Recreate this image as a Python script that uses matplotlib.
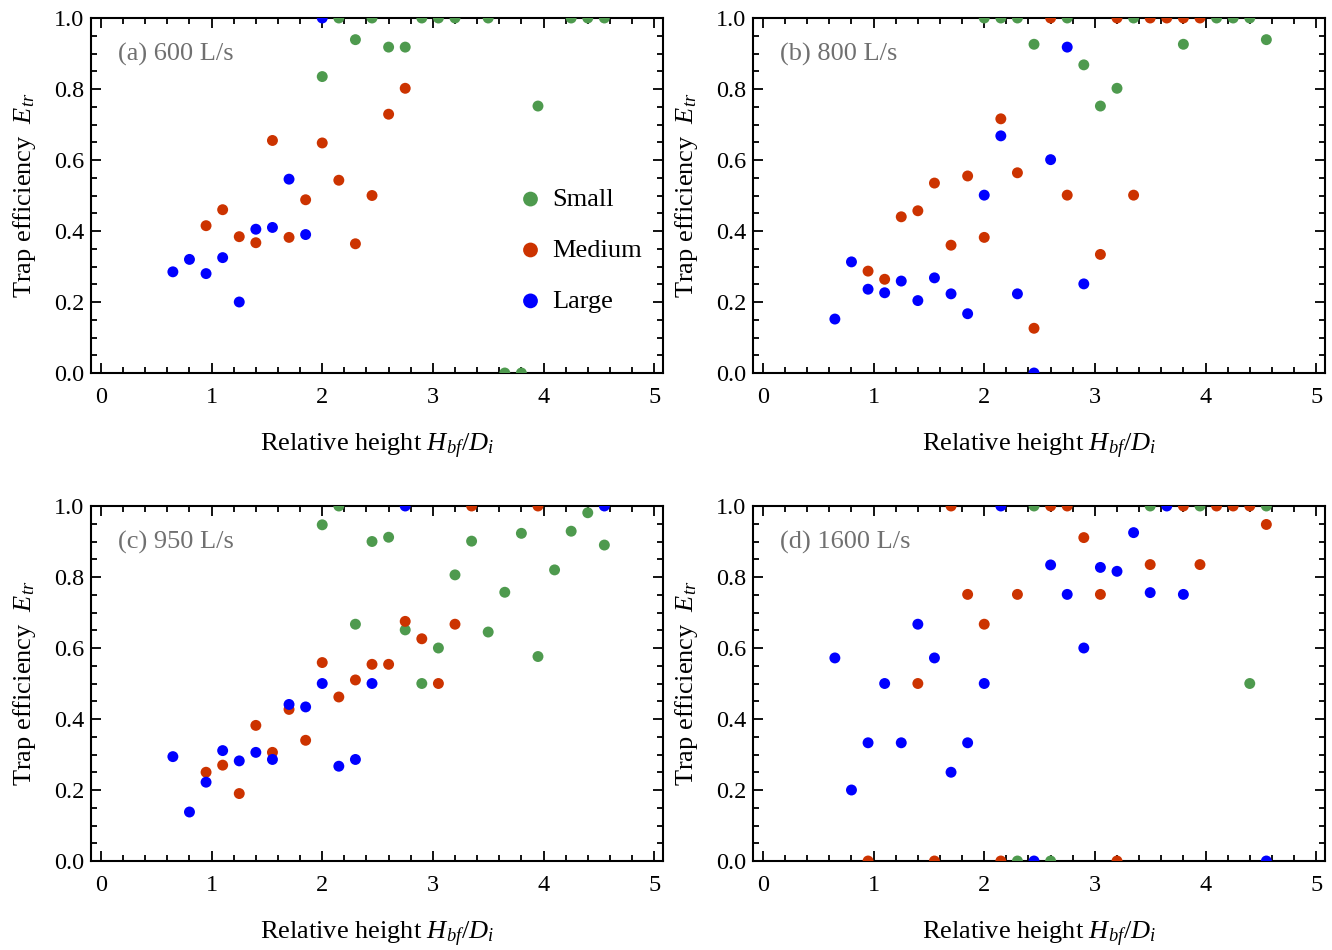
import matplotlib

matplotlib.use("Agg")
import matplotlib.pyplot as plt
from matplotlib.ticker import MultipleLocator

plt.rcParams["font.family"] = ["Liberation Serif", "DejaVu Serif"]
plt.rcParams["mathtext.fontset"] = "custom"
plt.rcParams["mathtext.rm"] = "Liberation Serif"
plt.rcParams["mathtext.it"] = "Liberation Serif:italic"

COLORS = {"Small": "#4E9A4E", "Medium": "#CC3300", "Large": "#0000FF"}

# (a) 600 L/s
a_small_x = [2.0, 2.15, 2.3, 2.45, 2.6, 2.75, 2.9, 3.05, 3.2, 3.5, 3.65, 3.8, 3.95, 4.25, 4.4, 4.55]
a_small_y = [0.835, 1.0, 0.939, 1.0, 0.918, 0.918, 1.0, 1.0, 1.0, 1.0, 0.0, 0.0, 0.752, 1.0, 1.0, 1.0]
a_medium_x = [0.95, 1.1, 1.25, 1.4, 1.55, 1.7, 1.85, 2.0, 2.15, 2.3, 2.45, 2.6, 2.75]
a_medium_y = [0.415, 0.46, 0.384, 0.367, 0.655, 0.382, 0.488, 0.648, 0.543, 0.364, 0.50, 0.729, 0.802]
a_large_x = [0.65, 0.8, 0.95, 1.1, 1.25, 1.4, 1.55, 1.7, 1.85, 2.0]
a_large_y = [0.285, 0.32, 0.28, 0.325, 0.20, 0.405, 0.41, 0.546, 0.39, 1.0]

# (b) 800 L/s
b_small_x = [2.0, 2.15, 2.3, 2.45, 2.75, 2.9, 3.05, 3.2, 3.35, 3.8, 4.1, 4.25, 4.4, 4.55]
b_small_y = [1.0, 1.0, 1.0, 0.926, 1.0, 0.868, 0.752, 0.802, 1.0, 0.926, 1.0, 1.0, 1.0, 0.939]
b_medium_x = [0.95, 1.1, 1.25, 1.4, 1.55, 1.7, 1.85, 2.0, 2.15, 2.3, 2.45, 2.6, 2.75, 3.05, 3.2, 3.35,
              3.5, 3.65, 3.8, 3.95]
b_medium_y = [0.287, 0.264, 0.44, 0.457, 0.535, 0.36, 0.555, 0.382, 0.716, 0.564, 0.126, 1.0, 0.501, 0.334,
              1.0, 0.501, 1.0, 1.0, 1.0, 1.0]
b_large_x = [0.65, 0.8, 0.95, 1.1, 1.25, 1.4, 1.55, 1.7, 1.85, 2.0, 2.15, 2.3, 2.45, 2.6, 2.75, 2.9]
b_large_y = [0.152, 0.313, 0.236, 0.226, 0.259, 0.204, 0.268, 0.223, 0.167, 0.501, 0.668, 0.223, 0.0,
             0.601, 0.918, 0.251]

# (c) 950 L/s
c_small_x = [2.0, 2.15, 2.3, 2.45, 2.6, 2.75, 2.9, 3.05, 3.2, 3.35, 3.5, 3.65, 3.8, 3.95, 4.1, 4.25, 4.4,
             4.55]
c_small_y = [0.947, 1.0, 0.667, 0.90, 0.912, 0.651, 0.50, 0.60, 0.806, 0.901, 0.645, 0.757, 0.923, 0.576,
             0.82, 0.929, 0.981, 0.89]
c_medium_x = [0.95, 1.1, 1.25, 1.4, 1.55, 1.7, 1.85, 2.0, 2.15, 2.3, 2.45, 2.6, 2.75, 2.9, 3.05, 3.2, 3.35,
              3.95]
c_medium_y = [0.25, 0.27, 0.19, 0.382, 0.306, 0.427, 0.34, 0.559, 0.462, 0.51, 0.554, 0.554, 0.675, 0.626,
              0.50, 0.667, 1.0, 1.0]
c_large_x = [0.65, 0.8, 0.95, 1.1, 1.25, 1.4, 1.55, 1.7, 1.85, 2.0, 2.15, 2.3, 2.45, 2.75, 4.55]
c_large_y = [0.294, 0.138, 0.222, 0.311, 0.282, 0.306, 0.286, 0.441, 0.434, 0.50, 0.267, 0.286, 0.50, 1.0,
             1.0]

# (d) 1600 L/s
d_small_x = [2.3, 2.45, 2.6, 3.5, 3.95, 4.4, 4.55]
d_small_y = [0.0, 1.0, 0.0, 1.0, 1.0, 0.50, 1.0]
d_medium_x = [0.95, 1.4, 1.55, 1.7, 1.85, 2.0, 2.15, 2.3, 2.6, 2.75, 2.9, 3.05, 3.2, 3.5, 3.8, 3.95, 4.1,
              4.25, 4.4, 4.55]
d_medium_y = [0.0, 0.50, 0.0, 1.0, 0.751, 0.667, 0.0, 0.751, 1.0, 1.0, 0.911, 0.751, 0.0, 0.835, 1.0, 0.835,
              1.0, 1.0, 1.0, 0.948]
d_large_x = [0.65, 0.8, 0.95, 1.1, 1.25, 1.4, 1.55, 1.7, 1.85, 2.0, 2.15, 2.45, 2.6, 2.75, 2.9, 3.05, 3.2,
             3.35, 3.5, 3.65, 3.8, 4.55]
d_large_y = [0.572, 0.20, 0.333, 0.50, 0.333, 0.667, 0.572, 0.25, 0.333, 0.50, 1.0, 0.0, 0.834, 0.751, 0.60,
             0.827, 0.816, 0.925, 0.756, 1.0, 0.751, 0.0]

PANELS = [
    ("(a) 600 L/s", (a_small_x, a_small_y), (a_medium_x, a_medium_y), (a_large_x, a_large_y)),
    ("(b) 800 L/s", (b_small_x, b_small_y), (b_medium_x, b_medium_y), (b_large_x, b_large_y)),
    ("(c) 950 L/s", (c_small_x, c_small_y), (c_medium_x, c_medium_y), (c_large_x, c_large_y)),
    ("(d) 1600 L/s", (d_small_x, d_small_y), (d_medium_x, d_medium_y), (d_large_x, d_large_y)),
]

# axes boxes in pixels: left edge and top edge
W, H = 1332, 950
BOXES = [(91, 18), (753, 18), (91, 506), (753, 506)]
AX_W, AX_H = 572, 355

fig = plt.figure(figsize=(W / 100, H / 100), dpi=100)

for (title, small, medium, large), (left, top) in zip(PANELS, BOXES):
    ax = fig.add_axes([left / W, 1 - (top + AX_H) / H, AX_W / W, AX_H / H])
    for name, (xs, ys) in zip(["Small", "Medium", "Large"], [small, medium, large]):
        ax.scatter(xs, ys, s=62, color=COLORS[name], edgecolors="none", label=name, zorder=3)
    ax.set_xlim(-0.09, 5.08)
    ax.set_ylim(0, 1)
    ax.xaxis.set_major_locator(MultipleLocator(1))
    ax.xaxis.set_minor_locator(MultipleLocator(0.2))
    ax.yaxis.set_major_locator(MultipleLocator(0.2))
    ax.yaxis.set_minor_locator(MultipleLocator(0.05))
    ax.yaxis.set_major_formatter(plt.FuncFormatter(lambda v, p: f"{v:.1f}"))
    ax.tick_params(which="both", direction="in", top=True, right=True, labelsize=17.5, width=1.3)
    ax.tick_params(axis="x", which="major", pad=10)
    ax.tick_params(axis="y", which="major", pad=5)
    ax.tick_params(which="major", length=7)
    ax.tick_params(which="minor", length=4)
    for spine in ax.spines.values():
        spine.set_linewidth(1.5)
    ax.set_xlabel("Relative height $H_{bf}/D_i$", fontsize=19, labelpad=17)
    ax.set_ylabel("Trap efficiency  $E_{tr}$", fontsize=19, labelpad=11)
    ax.text(0.047, 0.896, title, transform=ax.transAxes, fontsize=19, color="#707070", va="center")
    if title.startswith("(a)"):
        ax.legend(loc="center right", bbox_to_anchor=(1.0, 0.346), frameon=False, fontsize=19,
                  markerscale=1.35, handletextpad=0.22, labelspacing=1.04, borderaxespad=0.4,
                  handlelength=1.2)

fig.savefig("out.png", dpi=100)
